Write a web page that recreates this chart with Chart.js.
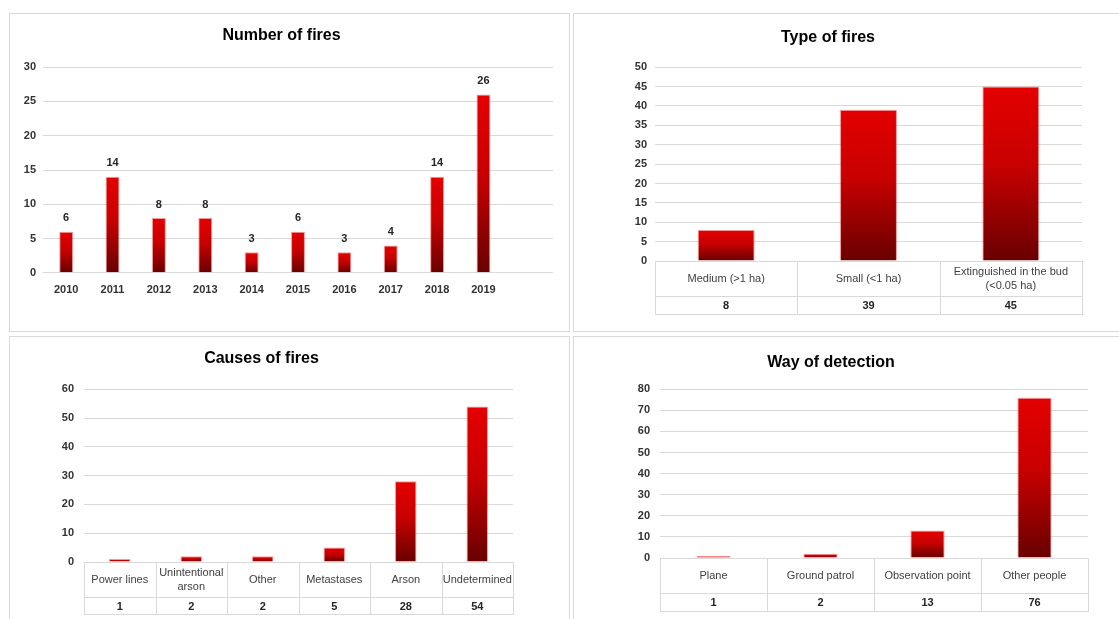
<!DOCTYPE html>
<html>
<head>
<meta charset="utf-8">
<script src="https://cdn.jsdelivr.net/npm/chart.js@4.4.0/dist/chart.umd.min.js"></script>
<style>
  html,body{margin:0;padding:0;background:#fff;width:1119px;height:619px;overflow:hidden}
  body{position:relative}
  .panel{position:absolute;border:1px solid #d9d9d9;background:#fff;box-sizing:border-box;overflow:hidden}
  .panel canvas{position:absolute;left:0;top:0}
</style>
</head>
<body>
<div class="panel" style="left:9px;top:13px;width:561px;height:319px"><canvas id="c1" width="559" height="317"></canvas></div>
<div class="panel" style="left:573px;top:13px;width:560px;height:319px"><canvas id="c2" width="545" height="317"></canvas></div>
<div class="panel" style="left:9px;top:336px;width:561px;height:300px"><canvas id="c3" width="559" height="282"></canvas></div>
<div class="panel" style="left:573px;top:336px;width:560px;height:300px"><canvas id="c4" width="545" height="282"></canvas></div>
<script>
// --- data ---
const years = ['2010','2011','2012','2013','2014','2015','2016','2017','2018','2019'];
const fireCounts = [6,14,8,8,3,6,3,4,14,26];

const typeLabels = [['Medium (>1 ha)'],['Small (<1 ha)'],['Extinguished in the bud','(<0.05 ha)']];
const typeCounts = [8,39,45];

const causeLabels = [['Power lines'],['Unintentional','arson'],['Other'],['Metastases'],['Arson'],['Undetermined']];
const causeCounts = [1,2,2,5,28,54];

const detectLabels = [['Plane'],['Ground patrol'],['Observation point'],['Other people']];
const detectCounts = [1,2,13,76];

const FONT = '"Liberation Sans", Arial, sans-serif';
Chart.defaults.font.family = FONT;
Chart.defaults.color = '#333';

// per-bar red gradient, bright on top, dark at the base
function barFill(c){
  const chart=c.chart, a=chart.chartArea;
  if(!a || c.type!=='data' || c.raw==null) return '#d00000';
  const y=chart.scales.y;
  const top=y.getPixelForValue(c.raw), base=y.getPixelForValue(0);
  if(base-top<1) return '#c00000';
  const g=chart.ctx.createLinearGradient(0,top,0,base);
  g.addColorStop(0,'#e40000');
  g.addColorStop(0.45,'#c80000');
  g.addColorStop(1,'#680000');
  return g;
}

const valueLabels = {
  id:'valueLabels',
  afterDatasetsDraw(chart){
    const ctx=chart.ctx, meta=chart.getDatasetMeta(0), data=chart.data.datasets[0].data;
    ctx.save();
    ctx.font='bold 11px '+FONT; ctx.fillStyle='#262626';
    ctx.textAlign='center'; ctx.textBaseline='bottom';
    meta.data.forEach((bar,i)=>{
      if(data[i]==null) return;
      ctx.fillText(String(data[i]), bar.x, bar.y-8);
    });
    ctx.restore();
  }
};

// data table drawn under the plot area (category row + value row)
const dataTable = {
  id:'dataTable',
  afterDraw(chart, args, opts){
    const ctx=chart.ctx, a=chart.chartArea, x=chart.scales.x;
    const cats=opts.cats, vals=chart.data.datasets[0].data;
    const n=cats.length, w=(a.right-a.left)/n;
    const top=Math.round(a.bottom), mid=top+opts.row1, bot=mid+opts.row2;
    ctx.save();
    ctx.strokeStyle='#d9d9d9'; ctx.lineWidth=1;
    ctx.beginPath();
    [top,mid,bot].forEach(y=>{ ctx.moveTo(a.left,y+0.5); ctx.lineTo(a.right,y+0.5); });
    for(let i=0;i<=n;i++){
      const xx=Math.round(a.left+i*w)+0.5;
      ctx.moveTo(xx,top); ctx.lineTo(xx,bot+1);
    }
    ctx.stroke();
    ctx.textAlign='center'; ctx.textBaseline='middle';
    for(let i=0;i<n;i++){
      const cx=x.getPixelForValue(i);
      const lines=cats[i], lh=14;
      ctx.font='11px '+FONT; ctx.fillStyle='#404040';
      const y0=top+opts.row1/2-(lines.length-1)*lh/2;
      lines.forEach((t,j)=>ctx.fillText(t,cx,y0+j*lh));
      ctx.font='bold 11px '+FONT; ctx.fillStyle='#262626';
      ctx.fillText(String(vals[i]),cx,mid+opts.row2/2+1);
    }
    ctx.restore();
  }
};

function makeChart(id, cfg){
  const ds={data:cfg.data, backgroundColor:barFill, borderColor:'rgba(235,70,70,0.55)', borderWidth:1,
            categoryPercentage:1, barPercentage:cfg.barPct};
  const opts={
    responsive:false, animation:false, devicePixelRatio:1,
    layout:{padding:cfg.pad},
    plugins:{
      legend:{display:false}, tooltip:{enabled:false},
      title:{display:true, text:cfg.title, color:'#000', font:{size:16, weight:'bold'}, padding:cfg.titlePad},
      dataTable: cfg.table || false
    },
    scales:{
      y:{min:0, max:cfg.max, ticks:{stepSize:cfg.step, padding:cfg.yPad, font:{size:11, weight:'bold'}, color:'#333'},
         grid:{color:'#d9d9d9', drawTicks:false}, border:{display:false},
         afterFit(s){ s.width=cfg.yWidth; }},
      x:cfg.table ? {ticks:{display:false}, grid:{display:false}, border:{display:false},
           afterFit(s){ s.height=cfg.table.row1+cfg.table.row2; }}
         : {ticks:{padding:3, font:{size:11, weight:'bold'}, color:'#333'}, grid:{display:false}, border:{display:false}}
    }
  };
  return new Chart(document.getElementById(id), {
    type:'bar',
    data:{labels:cfg.labels, datasets:[ds]},
    options:opts,
    plugins:cfg.table ? [dataTable] : [valueLabels]
  });
}

makeChart('c1', {title:'Number of fires', labels:years.concat(['']), data:fireCounts,
  max:30, step:5, barPct:0.3, yWidth:33, yPad:7,
  pad:{left:0,right:16,top:0,bottom:31}, titlePad:{top:12,bottom:22}});

makeChart('c2', {title:'Type of fires', labels:typeLabels, data:typeCounts,
  max:50, step:5, barPct:0.4, yWidth:81, yPad:8,
  pad:{left:0,right:37,top:0,bottom:17}, titlePad:{top:14,bottom:20},
  table:{cats:typeLabels,row1:35,row2:18}});

makeChart('c3', {title:'Causes of fires', labels:causeLabels, data:causeCounts,
  max:60, step:10, barPct:0.3, yWidth:74, yPad:10,
  pad:{left:0,right:56,top:0,bottom:5}, titlePad:{top:12,bottom:21},
  table:{cats:causeLabels,row1:35,row2:17}});

makeChart('c4', {title:'Way of detection', labels:detectLabels, data:detectCounts,
  max:80, step:10, barPct:0.32, yWidth:86, yPad:10,
  pad:{left:0,right:31,top:0,bottom:8}, titlePad:{top:16,bottom:17},
  table:{cats:detectLabels,row1:35,row2:18}});
</script>
</body>
</html>
